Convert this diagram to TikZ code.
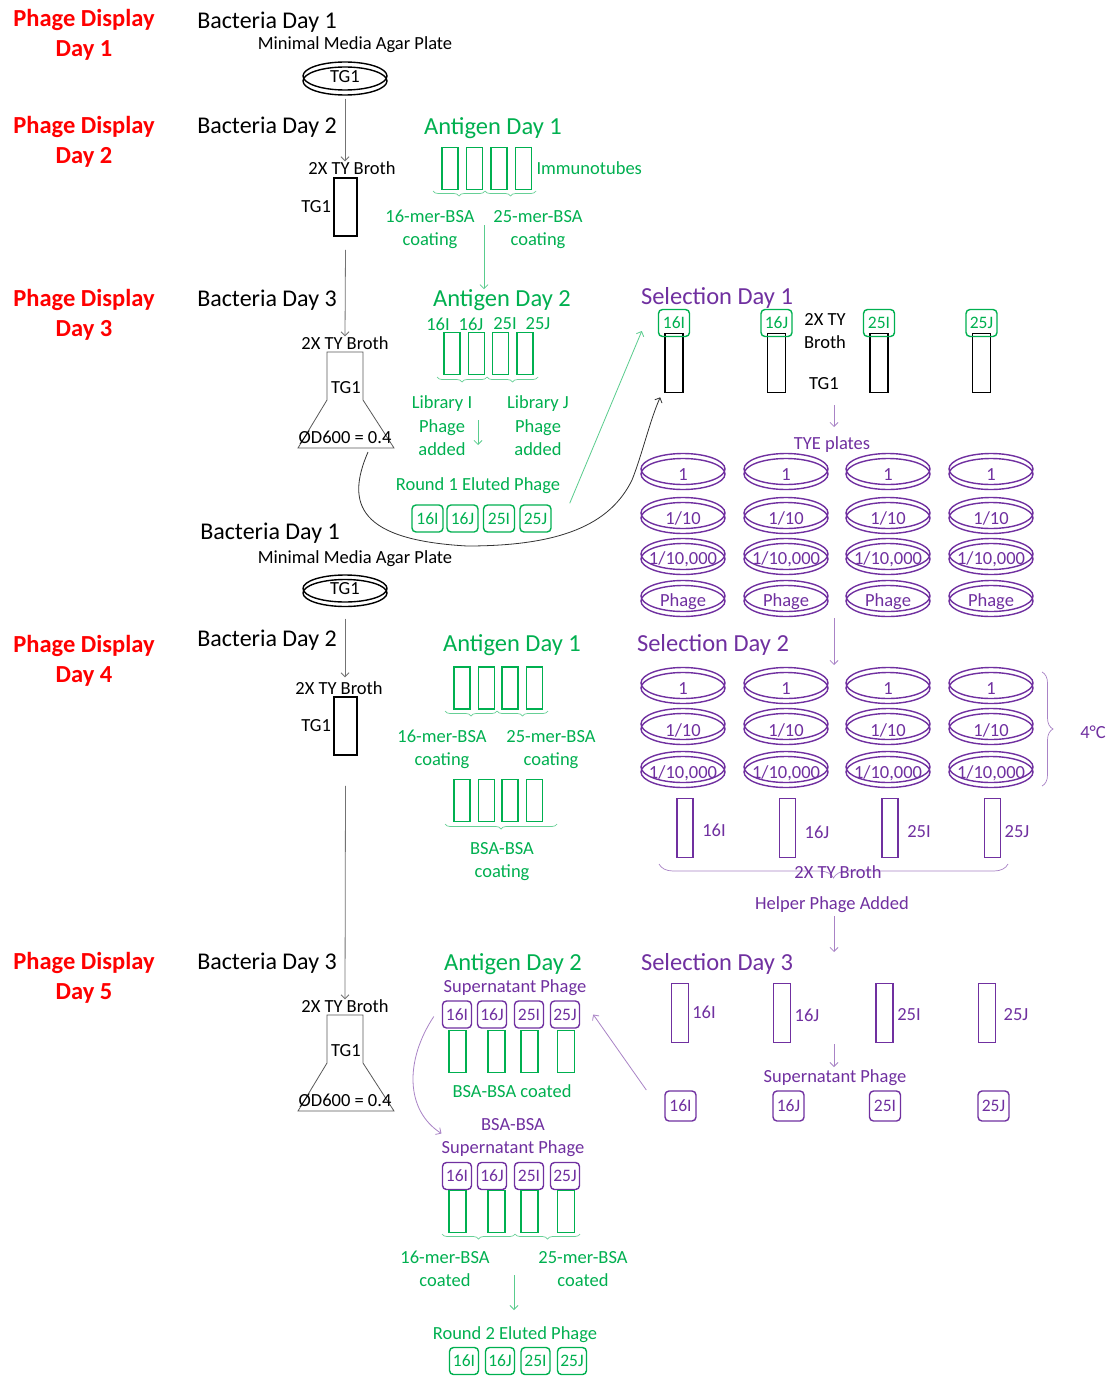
\documentclass[tikz,border=0pt]{standalone}
\usepackage{fontspec}
\setmainfont{Carlito}
\usetikzlibrary{arrows.meta,calc,positioning,shapes.geometric,decorations.pathreplacing}

\definecolor{pdred}{HTML}{FF0000}
\definecolor{aggreen}{HTML}{00B050}
\definecolor{selpurple}{HTML}{7030A0}

\begin{document}
\begin{tikzpicture}[x=1pt,y=-1pt,
  pdtitle/.style={font=\fontsize{24.5}{30}\selectfont\bfseries,text=pdred,align=center,inner sep=0pt},
  bachead/.style={font=\fontsize{24}{28}\selectfont,inner sep=0pt},
  grnhead/.style={font=\fontsize{24.5}{28}\selectfont,text=aggreen,inner sep=0pt},
  purhead/.style={font=\fontsize{24.5}{28}\selectfont,text=selpurple,inner sep=0pt},
  lbl/.style={font=\fontsize{18.5}{23.5}\selectfont,align=center,inner sep=0pt},
  tag/.style={draw,rounded corners=4pt,line width=1.4pt,minimum width=30pt,minimum height=27pt,inner sep=0pt,font=\fontsize{17.5}{17.5}\selectfont},
  tube/.style={draw,line width=1.6pt,minimum width=17pt,minimum height=43pt,inner sep=0pt},
  dish/.style={ellipse,draw,line width=1.4pt,minimum width=84pt,minimum height=31pt,inner sep=0pt},
  greyarrow/.style={draw=black!55,line width=0.8pt,-{Straight Barb[length=4pt,width=8pt]}},
  grnarrow/.style={draw=aggreen!65,line width=0.8pt,-{Straight Barb[length=4pt,width=8pt]}},
  purarrow/.style={draw=selpurple!60,line width=0.8pt,-{Straight Barb[length=4pt,width=8pt]}},
  grnbrace/.style={draw=aggreen!60,line width=0.7pt,decorate,decoration={brace,mirror,amplitude=5pt}},
  purbrace/.style={draw=selpurple!60,line width=0.7pt,decorate,decoration={brace,mirror,amplitude=6pt}},
  flask/.style={draw=black!65,line width=0.8pt}]
\fill[white] (0,0) rectangle (1116,1378);
\useasboundingbox (0,0) rectangle (1116,1378);

% Phage display days
\node[pdtitle] (pd1) at (84,35) {Phage Display\\Day 1};
\node[pdtitle] (pd2) at (84,142) {Phage Display\\Day 2};
\node[pdtitle] (pd3) at (84,315) {Phage Display\\Day 3};
\node[pdtitle] (pd4) at (84,661) {Phage Display\\Day 4};
\node[pdtitle] (pd5) at (84,978) {Phage Display\\Day 5};

% Bacteria, first round
\node[bachead] (bac1) at (267,22) {Bacteria Day 1};
\node[lbl] (agar1) at (355,45) {Minimal Media Agar Plate};
\draw[line width=1.4pt] (345,81) ellipse [x radius=42pt,y radius=14pt];
\node[dish,minimum height=28pt] (plt1) at (345,76) {};
\node[lbl] (tg1a) at (345,77) {TG1};
\node[bachead] (bac2) at (267,127) {Bacteria Day 2};
\node[lbl] (broth1) at (352,168) {2X TY Broth};
\node[tube,minimum width=23pt,minimum height=58pt] (tub1) at (345.5,207) {};
\node[lbl,left=2pt of tub1] (tg1b) {TG1};
\node[bachead] (bac3) at (267,300) {Bacteria Day 3};
\node[lbl] (broth2) at (345,343) {2X TY Broth};
\draw[flask] (327,352) -- (363,352) -- (363,400) -- (394,448) -- (298,448) -- (327,400) -- cycle;
\node[lbl] (tg1c) at (346,388) {TG1};
\node[lbl] (od1) at (345,438) {ØD600 = 0.4};
\coordinate (fl1) at (368,452);

\draw[greyarrow] ($(plt1.south)+(0,8)$) -- (broth1.north -| plt1.south);
\draw[greyarrow] ($(tub1.south)+(0,13)$) -- (broth2.north);

% Bacteria, second round
\node[bachead] (bac4) at (270,533) {Bacteria Day 1};
\node[lbl] (agar2) at (355,559) {Minimal Media Agar Plate};
\draw[line width=1.4pt] (345,593) ellipse [x radius=42pt,y radius=13.5pt];
\node[dish,minimum height=27pt] (plt2) at (345,588.5) {};
\node[lbl] (tg1d) at (345,589) {TG1};
\node[bachead] (bac5) at (267,640) {Bacteria Day 2};
\node[lbl] (broth3) at (339,688) {2X TY Broth};
\node[tube,minimum width=23pt,minimum height=58pt] (tub2) at (345.5,726) {};
\node[lbl,left=2pt of tub2] (tg1e) {TG1};
\node[bachead] (bac6) at (267,963) {Bacteria Day 3};
\node[lbl] (broth4) at (345,1006) {2X TY Broth};
\draw[flask] (327,1015) -- (363,1015) -- (363,1063) -- (394,1111) -- (298,1111) -- (327,1063) -- cycle;
\node[lbl] (tg1f) at (346,1051) {TG1};
\node[lbl] (od2) at (345,1101) {ØD600 = 0.4};

\draw[greyarrow] ($(plt2.south)+(0,16)$) -- ($(broth3.north -| plt2.south)+(0,-4)$);
\draw[greyarrow] ($(tub2.south)+(0,30)$) -- (broth4.north);

% Antigen day 1, first round
\node[grnhead] (ag1) at (493,128) {Antigen Day 1};
\foreach \i/\x in {1/450,2/474.5,3/499,4/523.5}
  \node[tube,draw=aggreen,minimum width=16pt,minimum height=42pt] (imt\i) at (\x,168.5) {};
\node[lbl,text=aggreen,right=4pt of imt4] (immuno) {Immunotubes};
\draw[grnbrace] (433,191) -- (485,191);
\draw[grnbrace] (485,191) -- (536,191);
\node[lbl,text=aggreen] (c16a) at (430,229.5) {16-mer-BSA\\coating};
\node[lbl,text=aggreen] (c25a) at (538,229.5) {25-mer-BSA\\coating};

% Antigen day 2, first round
\node[grnhead] (ag2) at (502,300) {Antigen Day 2};
\foreach \x/\t in {438/16I,471/16J,505/25I,538/25J}
  \node[lbl,text=aggreen] (lib\t) at (\x,324) {\t};
\foreach \i/\x in {1/452,2/476.5,3/500.5,4/525}
  \node[tube,draw=aggreen,minimum width=16pt,minimum height=42pt] (lbt\i) at (\x,353.5) {};
\draw[grnbrace] (437,377) -- (487,377);
\draw[grnbrace] (487,377) -- (538,377);
\node[lbl,text=aggreen] (libi) at (442,426) {Library I\\Phage\\added};
\node[lbl,text=aggreen] (libj) at (538,426) {Library J\\Phage\\added};
\node[lbl,text=aggreen] (elu1) at (478,486) {Round 1 Eluted Phage};
\foreach \i/\x/\t in {1/427.5/16I,2/462.5/16J,3/499/25I,4/535.5/25J}
  \node[tag,draw=aggreen,text=aggreen,minimum width=31pt] (r1g\i) at (\x,518.5) {\t};

\coordinate (ag1out) at (484,225);
\draw[grnarrow] (ag1out) -- (ag1out |- ag2.north);
\coordinate (libout) at (478,420);
\coordinate (libin) at (478,445);
\draw[grnarrow] (libout) -- (libin);

% Selection day 1
\node[purhead] (sel1) at (717,298) {Selection Day 1};
\foreach \i/\x/\t in {1/674/16I,2/776.5/16J,3/879/25I,4/981.5/25J}{
  \node[tube,minimum width=18pt,minimum height=59pt] (s1t\i) at (\x,363) {};
  \node[tag,draw=aggreen,text=aggreen,minimum width=31pt] (s1g\i) at (\x,323) {\t};
}
\node[lbl] (broth5) at (825,331) {2X TY\\Broth};
\node[lbl] (tgs1) at (824,384) {TG1};
\node[lbl,text=selpurple] (tye) at (832,445) {TYE plates};
\foreach \c/\x in {1/683,2/786,3/888,4/991}{
  \foreach \r/\y/\t in {1/469/1,2/513/{1/10},3/554/{1/10,000},4/596/Phage}{
    \draw[selpurple,line width=1.4pt] (\x,\y+5) ellipse [x radius=42pt,y radius=15.5pt];
    \node[dish,draw=selpurple] (tye\c\r) at (\x,\y) {};
    \node[lbl,text=selpurple] (tyel\c\r) at (\x,\y+5.5) {\t};
  }
}
\coordinate (tgout) at (834,405);
\coordinate (tyein) at (834,427);
\draw[purarrow] (tgout) -- (tyein);

% round 1 phage into selection day 1
\draw[grnarrow] ($(r1g4.north east)+(18,-1)$) -- ($(s1g1.west)+(-16,8)$);
\draw[black!80,line width=0.8pt,-{Straight Barb[length=4pt,width=8pt]}] (fl1)
  .. controls (345,505) and (360,540) .. (467,546)
  .. controls (560,546) and (610,525) .. (632,480)
  .. controls (642,455) and (650,420) .. ($(s1t1.south west)+(-4,4)$);

% Selection day 2
\coordinate (s1out) at (834,618);
\coordinate (s2in) at (834,665);
\draw[purarrow] (s1out) -- (s2in);
\node[purhead] (sel2) at (713,645) {Selection Day 2};
\foreach \c/\x in {1/683,2/786,3/888,4/991}{
  \foreach \r/\y/\t in {1/683/1,2/724/{1/10},3/767/{1/10,000}}{
    \draw[selpurple,line width=1.4pt] (\x,\y+5) ellipse [x radius=42pt,y radius=15.5pt];
    \node[dish,draw=selpurple] (sdp\c\r) at (\x,\y) {};
    \node[lbl,text=selpurple] (sdpl\c\r) at (\x,\y+6) {\t};
  }
}
\draw[purbrace,decoration={amplitude=11pt}] (1042,786) -- (1042,672);
\node[lbl,text=selpurple] (cold) at (1093,732) {4°C};
\foreach \i/\x/\lx/\ly/\t in {1/685/714/830/16I,2/787.5/817/832/16J,3/890/919/832/25I,4/992.5/1017/832/25J}{
  \node[tube,draw=selpurple,minimum width=16pt,minimum height=59pt] (s2t\i) at (\x,828) {};
  \node[lbl,text=selpurple] (s2l\i) at (\lx,\ly) {\t};
}
\draw[purbrace,decoration={amplitude=14pt}] (659,864) -- (1008,864);
\node[lbl,text=selpurple] (broth6) at (838,872) {2X TY Broth};
\node[lbl,text=selpurple] (helper) at (832,905) {Helper Phage Added};

% Selection day 3
\coordinate (helpout) at (834,916);
\coordinate (s3in) at (834,952);
\draw[purarrow] (helpout) -- (s3in);
\node[purhead] (sel3) at (717,964) {Selection Day 3};
\foreach \i/\x/\lx/\ly/\t in {1/680/704/1012/16I,2/782/807/1015/16J,3/884.5/909/1015/25I,4/987/1016/1015/25J}{
  \node[tube,draw=selpurple,minimum width=17pt,minimum height=59pt] (s3t\i) at (\x,1013) {};
  \node[lbl,text=selpurple] (s3l\i) at (\lx,\ly) {\t};
}
\coordinate (s3out) at (834,1044);
\coordinate (supin) at (834,1067);
\draw[purarrow] (s3out) -- (supin);
\node[lbl,text=selpurple] (sup2) at (835,1078) {Supernatant Phage};
\foreach \i/\x/\t in {1/680.5/16I,2/788.5/16J,3/885/25I,4/993.5/25J}
  \node[tag,draw=selpurple,text=selpurple,minimum width=31pt,minimum height=30pt] (s3p\i) at (\x,1106) {\t};

% Antigen day 1, second round
\node[grnhead] (ag3) at (512,645) {Antigen Day 1};
\foreach \i/\x in {1/462,2/486.5,3/510,4/534.5}{
  \node[tube,draw=aggreen,minimum width=16pt,minimum height=42pt] (imu\i) at (\x,688) {};
  \node[tube,draw=aggreen,minimum width=16pt,minimum height=42pt] (imb\i) at (\x,800.5) {};
}
\draw[grnbrace] (445,711) -- (497,711);
\draw[grnbrace] (497,711) -- (548,711);
\node[lbl,text=aggreen] (c16b) at (442,749.5) {16-mer-BSA\\coating};
\node[lbl,text=aggreen] (c25b) at (551,749.5) {25-mer-BSA\\coating};
\draw[grnbrace] (445,824) -- (557,824);
\node[lbl,text=aggreen] (cbsa) at (502,861.5) {BSA-BSA\\coating};

% Antigen day 2, second round
\node[grnhead] (ag4) at (513,964) {Antigen Day 2};
\node[lbl,text=selpurple] (sup1) at (515,988) {Supernatant Phage};
\foreach \i/\x/\tx/\t in {1/457/457.5/16I,2/492/496.7/16J,3/529/529.7/25I,4/565/565.8/25J}{
  \node[tag,draw=selpurple,text=selpurple,minimum width=29pt] (p1t\i) at (\x,1014.5) {\t};
  \node[tube,draw=aggreen,minimum width=17pt,minimum height=42pt] (bst\i) at (\tx,1051.5) {};
  \node[tag,draw=selpurple,text=selpurple,minimum width=29pt] (p2t\i) at (\x,1176) {\t};
  \node[tube,draw=aggreen,minimum width=17pt,minimum height=42pt] (ant\i) at (\tx,1211.5) {};
}
\node[lbl,text=aggreen] (bsac) at (512,1091) {BSA-BSA coated};
\node[lbl,text=selpurple] (sup3) at (513,1137.5) {BSA-BSA\\Supernatant Phage};
\draw[purarrow] ($(p1t1.west)+(-8,2)$) .. controls (405,1060) and (405,1110) .. ($(sup3.west)+(0,-4)$);
\draw[grnbrace] (442,1234) -- (515,1234);
\draw[grnbrace] (515,1234) -- (580,1234);
\node[lbl,text=aggreen] (c16c) at (445,1269) {16-mer-BSA\\coated};
\node[lbl,text=aggreen] (c25c) at (583,1269) {25-mer-BSA\\coated};
\coordinate (antout) at (514,1275);
\draw[grnarrow] (antout) -- (antout |- 0,1310);
\node[lbl,text=aggreen] (elu2) at (515,1335) {Round 2 Eluted Phage};
\foreach \i/\x/\t in {1/464/16I,2/500/16J,3/535.5/25I,4/572/25J}
  \node[tag,draw=aggreen,text=aggreen,minimum width=29pt] (r2g\i) at (\x,1361) {\t};

% selection day 3 phage back to antigen day 2
\draw[purarrow] ($(s3p1.west)+(-18,-16)$) -- ($(p1t4.east)+(13,0)$);
\end{tikzpicture}
\end{document}
